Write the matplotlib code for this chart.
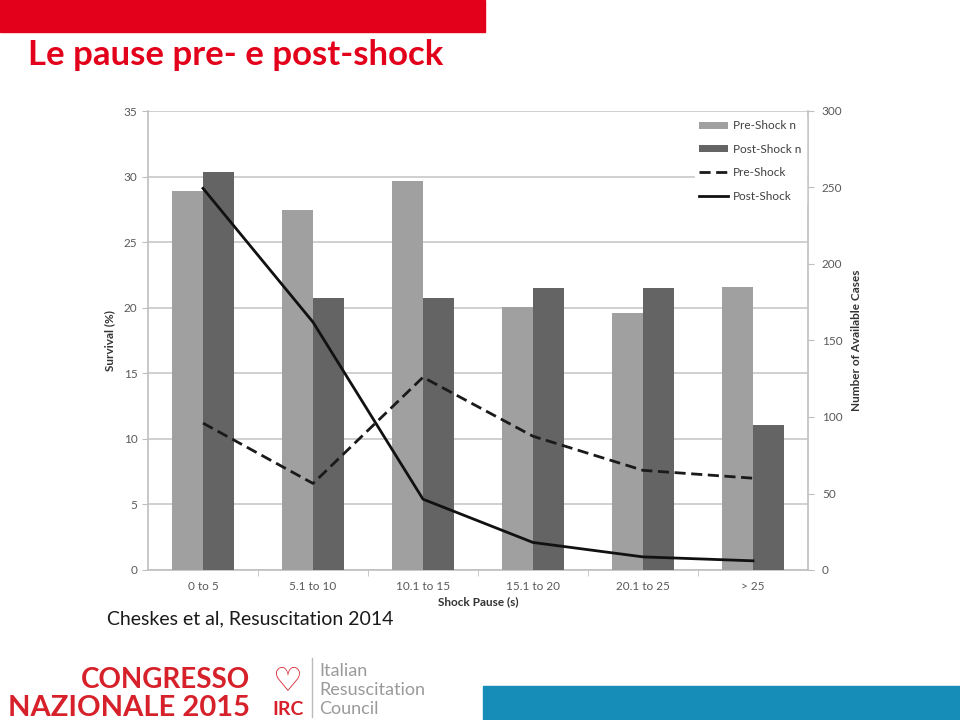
import numpy as np
import matplotlib
matplotlib.use("Agg")
import matplotlib.pyplot as plt
from matplotlib.patches import Rectangle

plt.rcParams['font.family'] = ['Lato', 'DejaVu Sans']

# data
categories = ['0 to 5', '5.1 to 10', '10.1 to 15', '15.1 to 20', '20.1 to 25', '> 25']
pre_n = [248, 235, 254, 172, 168, 185]
post_n = [260, 178, 178, 184, 184, 95]
pre_surv = [11.2, 6.6, 14.7, 10.2, 7.6, 7.0]
post_surv = [29.1, 18.9, 5.4, 2.1, 1.0, 0.7]
left_ticks = [0, 5, 10, 15, 20, 25, 30, 35]
right_ticks = [0, 50, 100, 150, 200, 250, 300]

red = '#e2001a'
grey_txt = '#595959'
grid_c = '#c8c8c8'

fig = plt.figure(figsize=(9.6, 7.2), dpi=100)

# slide decoration
fig.patches.append(Rectangle((0, 1 - 32/720), 485/960, 32/720, transform=fig.transFigure,
                             color=red, zorder=0))
fig.patches.append(Rectangle((483/960, 0), 477/960, 34/720, transform=fig.transFigure,
                             color='#168cb9', zorder=0))
fig.text(28/960, 1 - 65/720, 'Le pause pre- e post-shock', color=red, fontsize=25,
         fontweight='bold', va='baseline')

# axes: grid + left scale, bars on right scale, lines on top
x = np.arange(len(categories))
ax = fig.add_axes([148/960, 150/720, 660/960, 459/720])
ax.set_xlim(-0.5, len(categories) - 0.5)
ax.set_ylim(0, 35)
ax.set_yticks(left_ticks)
ax.yaxis.grid(True, color=grid_c, lw=1.2)
ax.set_axisbelow(True)
for s in ['top', 'right']:
    ax.spines[s].set_visible(False)
for s in ['left', 'bottom']:
    ax.spines[s].set_color('#bfbfbf')
    ax.spines[s].set_linewidth(1.2)
ax.tick_params(axis='y', colors='#bfbfbf', labelcolor=grey_txt, labelsize=8.5, length=4)
ax.set_xticks(x)
ax.set_xticklabels(categories)
ax.set_xticks(np.arange(0.5, len(categories) - 0.5), minor=True)
ax.tick_params(axis='x', which='major', length=0, labelsize=8.5, labelcolor=grey_txt, pad=8)
ax.tick_params(axis='x', which='minor', length=4, colors='#bfbfbf')
ax.set_ylabel('Survival (%)', fontsize=8.5, fontweight='bold', color='#333333', labelpad=6)
ax.set_xlabel('Shock Pause (s)', fontsize=8.5, fontweight='bold', color='#333333', labelpad=3)

ax2 = ax.twinx()
ax2.set_ylim(0, 300)
ax2.set_yticks(right_ticks)
w = 0.28
b1 = ax2.bar(x - w/2, pre_n, w, color='#a0a0a0', label='Pre-Shock n')
b2 = ax2.bar(x + w/2, post_n, w, color='#646464', label='Post-Shock n')
for s in ['top', 'left', 'bottom']:
    ax2.spines[s].set_visible(False)
ax2.spines['right'].set_color('#bfbfbf')
ax2.spines['right'].set_linewidth(1.2)
ax2.tick_params(axis='y', colors='#bfbfbf', labelcolor=grey_txt, labelsize=8.5, length=4, pad=6)
ax2.set_ylabel('Number of Available Cases', fontsize=8.5, fontweight='bold', color='#333333',
               labelpad=6)

ax3 = ax.twinx()
ax3.set_ylim(0, 35)
ax3.axis('off')
l1, = ax3.plot(x, pre_surv, color='#1a1a1a', lw=2, ls=(0, (4, 2)), label='Pre-Shock')
l2, = ax3.plot(x, post_surv, color='#111111', lw=2, label='Post-Shock')

leg = ax3.legend(handles=[b1, b2, l1, l2], loc='upper right', bbox_to_anchor=(1.0, 0.995),
                 fontsize=8.5, frameon=True, framealpha=1, edgecolor='white',
                 handlelength=2.4, handleheight=0.5, handletextpad=0.4,
                 labelspacing=1.05, borderaxespad=0.2)
for t in leg.get_texts():
    t.set_color('#404040')

fig.text(107/960, 1 - 624/720, 'Cheskes et al, Resuscitation 2014', fontsize=14,
         color='#1a1a1a', va='baseline')

# footer logo
lr = '#d6212b'
fig.text(250/960, 1 - 688/720, 'CONGRESSO', color=lr, fontsize=20, fontweight='bold',
         ha='right', va='baseline')
fig.text(250/960, 1 - 716/720, 'NAZIONALE 2015', color=lr, fontsize=21, fontweight='bold',
         ha='right', va='baseline')
fig.text(288/960, 1 - 690/720, '\u2661', color=lr, fontsize=24, ha='center', va='baseline',
         family=['DejaVu Sans'], fontweight='bold')
fig.text(288/960, 1 - 715/720, 'IRC', color=lr, fontsize=14, fontweight='bold',
         ha='center', va='baseline')
fig.lines.append(plt.Line2D([312/960, 312/960], [1 - 717/720, 1 - 658/720],
                            transform=fig.transFigure, color='#bbbbbb', lw=1))
for i, word in enumerate(['Italian', 'Resuscitation', 'Council']):
    fig.text(319/960, 1 - (676 + 19*i)/720, word, color='#9a9a9a', fontsize=13,
             va='baseline')

fig.savefig('out.png', dpi=100)
